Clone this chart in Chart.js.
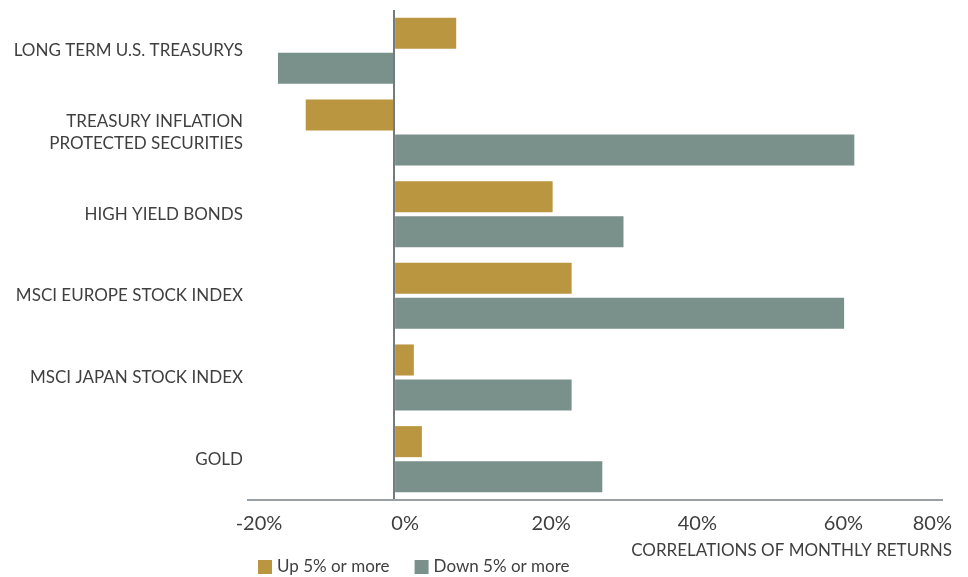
<!DOCTYPE html>
<html>
<head>
<meta charset="utf-8">
<script src="https://cdn.jsdelivr.net/npm/chart.js@4.4.1/dist/chart.umd.min.js"></script>
<style>
  html, body { margin: 0; padding: 0; background: #fff; }
  #wrap { width: 968px; height: 577px; position: relative; }
</style>
</head>
<body>
<div id="wrap"><canvas id="corrChart"></canvas></div>
<script>
// categories and correlation values (%)
const categories = [
  'LONG TERM U.S. TREASURYS',
  ['TREASURY INFLATION', 'PROTECTED SECURITIES'],
  'HIGH YIELD BONDS',
  'MSCI EUROPE STOCK INDEX',
  'MSCI JAPAN STOCK INDEX',
  'GOLD'
];
const upValues = [8.5, -12.1, 21.7, 24.3, 2.7, 3.8];
const downValues = [-15.9, 63.0, 31.4, 61.6, 24.3, 28.5];
const seriesNames = ['Up 5% or more', 'Down 5% or more'];
const tickValues = [-20, 0, 20, 40, 60, 80];
const tickLabels = ['-20%', '0%', '20%', '40%', '60%', '80%'];
const axisTitle = 'CORRELATIONS OF MONTHLY RETURNS';

const GOLD = '#b9963f';
const SAGE = '#7a918b';
const FONT = 'Lato, "Open Sans", sans-serif';
const TEXT = '#3f3f3f';

// tick labels, axis title and legend drawn under the plot
const bottomText = {
  id: 'bottomText',
  afterDraw(chart) {
    const ctx = chart.ctx;
    const x = chart.scales.x;
    const area = chart.chartArea;
    ctx.save();
    ctx.fillStyle = TEXT;
    ctx.textBaseline = 'middle';
    ctx.textAlign = 'center';
    ctx.font = '20px ' + FONT;
    const rightLimit = chart.width - 16;
    tickValues.forEach((v, i) => {
      const w = ctx.measureText(tickLabels[i]).width;
      let cx = x.getPixelForValue(v) + 11;
      if (cx + w / 2 > rightLimit) cx = rightLimit - w / 2;
      ctx.fillText(tickLabels[i], cx, area.bottom + 24);
    });

    ctx.font = '17px ' + FONT;
    ctx.textAlign = 'right';
    ctx.fillText(axisTitle, rightLimit, area.bottom + 51);

    // legend
    ctx.textAlign = 'left';
    ctx.font = '17px ' + FONT;
    let lx = area.left + 10;
    const ly = area.bottom + 67;
    chart.data.datasets.forEach(ds => {
      ctx.fillStyle = ds.backgroundColor;
      ctx.fillRect(lx, ly - 7, 14, 14);
      ctx.fillStyle = TEXT;
      ctx.fillText(ds.label, lx + 19, ly);
      lx += 19 + ctx.measureText(ds.label).width + 25;
    });
    ctx.restore();
  }
};

new Chart(document.getElementById('corrChart'), {
  type: 'bar',
  data: {
    labels: categories,
    datasets: [
      { label: seriesNames[0], data: upValues, backgroundColor: GOLD },
      { label: seriesNames[1], data: downValues, backgroundColor: SAGE }
    ]
  },
  options: {
    indexAxis: 'y',
    responsive: true,
    maintainAspectRatio: false,
    animation: false,
    categoryPercentage: 0.858,
    barPercentage: 0.886,
    layout: { padding: { top: 10, right: 26, left: 0, bottom: 0 } },
    scales: {
      x: {
        min: -20,
        max: 75,
        z: 1,
        ticks: { display: false, stepSize: 20 },
        grid: {
          drawTicks: false,
          lineWidth: 2,
          color: c => (c.tick && c.tick.value === 0 ? '#737a80' : 'rgba(0,0,0,0)')
        },
        border: { display: true, color: '#9ba0a5', width: 2 },
        afterFit: s => { s.height = 77; s.paddingLeft = 0; s.paddingRight = 0; }
      },
      y: {
        grid: { display: false, drawTicks: false },
        border: { display: false },
        ticks: {
          color: TEXT,
          padding: 5,
          font: { family: FONT, size: 17, lineHeight: 1.28 }
        },
        afterFit: s => { s.width = 248; s.paddingTop = 0; s.paddingBottom = 0; }
      }
    },
    plugins: {
      legend: { display: false },
      tooltip: { enabled: false }
    }
  },
  plugins: [bottomText]
});
</script>
</body>
</html>
